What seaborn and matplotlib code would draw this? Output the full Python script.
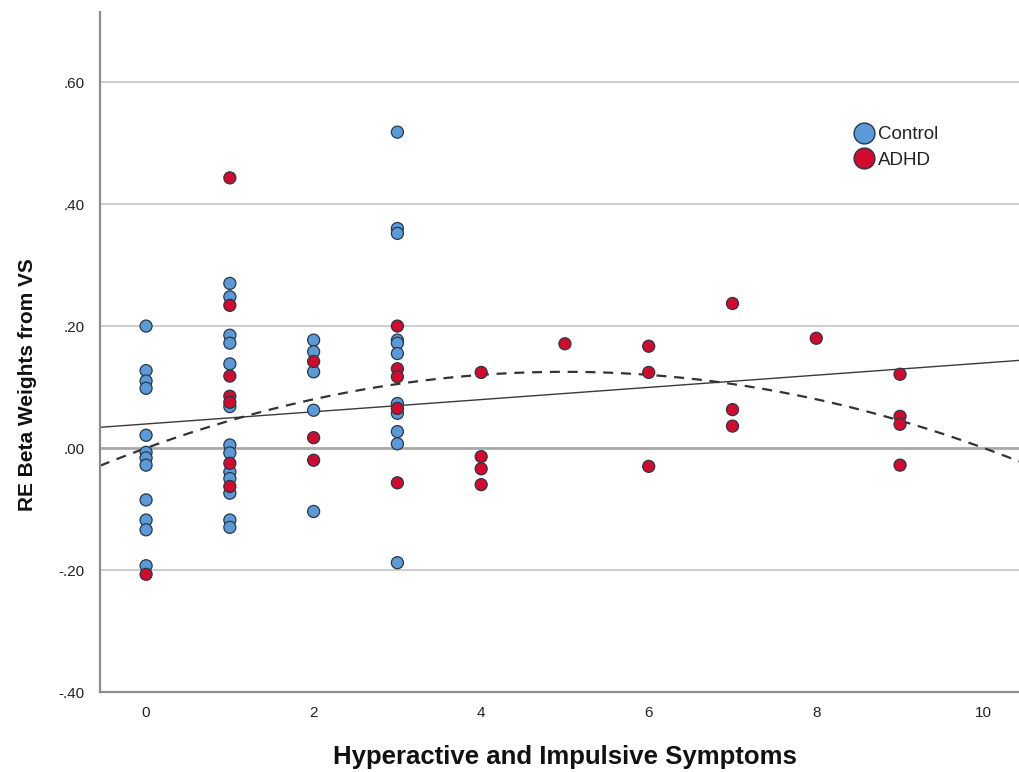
import numpy as np
import pandas as pd
import matplotlib
matplotlib.use("Agg")
import matplotlib.pyplot as plt
import seaborn as sns
from matplotlib.lines import Line2D

# ---------------- data ----------------
groups = ["Control", "ADHD"]

control_x = [0]*12 + [1]*13 + [2]*5 + [3]*11
control_y = [0.200, 0.127, 0.110, 0.098, 0.021, -0.007, -0.016, -0.028, -0.085, -0.118, -0.134, -0.193,
             0.270, 0.248, 0.185, 0.172, 0.138, 0.068, 0.005, -0.008, -0.039, -0.050, -0.074, -0.118, -0.130,
             0.177, 0.158, 0.125, 0.062, -0.104,
             0.518, 0.360, 0.352, 0.177, 0.172, 0.155, 0.073, 0.057, 0.027, 0.007, -0.188]

adhd_x = [0] + [1]*7 + [2]*3 + [3]*5 + [4]*4 + [5] + [6]*3 + [7]*3 + [8] + [9]*4
adhd_y = [-0.207,
          0.443, 0.234, 0.118, 0.085, 0.075, -0.025, -0.063,
          0.142, 0.017, -0.020,
          0.200, 0.130, 0.117, 0.065, -0.057,
          0.124, -0.014, -0.034, -0.060,
          0.171,
          0.167, 0.124, -0.030,
          0.237, 0.063, 0.036,
          0.180,
          0.121, 0.052, 0.039, -0.028]

# fit lines (polynomial coefficients, highest power first)
linear_fit_coef = [0.010, 0.0395]
quadratic_fit_coef = [-0.005, 0.050, 0.0]

y_ticks = [-0.40, -0.20, 0.00, 0.20, 0.40, 0.60]
y_tick_labels = ["-.40", "-.20", ".00", ".20", ".40", ".60"]
x_ticks = [0, 2, 4, 6, 8, 10]

x_label = "Hyperactive and Impulsive Symptoms"
y_label = "RE Beta Weights from VS"

palette = {"Control": "#5b9ad8", "ADHD": "#d20a2e"}

# ---------------- build frame ----------------
df = pd.concat([
    pd.DataFrame({"x": control_x, "y": control_y, "group": "Control"}),
    pd.DataFrame({"x": adhd_x, "y": adhd_y, "group": "ADHD"}),
], ignore_index=True)

sns.set_theme(style="white")
plt.rcParams["font.family"] = ["Liberation Sans", "DejaVu Sans"]

fig = plt.figure(figsize=(10.19, 7.72), dpi=100)
ax = fig.add_axes([100/1019, 1 - 692/772, 919/1019, (692-12)/772])

xlim = (-0.55, 10.42)
ylim = (-0.40, 0.715)

# grid lines
for t in y_ticks:
    if abs(t) < 1e-9:
        continue
    ax.axhline(t, color="#c9c9c9", lw=1.3, zorder=0)
ax.axhline(0.0, color="#a9a9a9", lw=2.0, zorder=0.5)

# fit lines
xs = np.linspace(xlim[0], xlim[1], 300)
ax.plot(xs, np.polyval(linear_fit_coef, xs), color="#3a3a3a", lw=1.0, zorder=1)
ax.plot(xs, np.polyval(quadratic_fit_coef, xs), color="#333333", lw=1.6,
        ls=(0, (4.5, 3.5)), zorder=1)

sns.scatterplot(data=df, x="x", y="y", hue="group", hue_order=groups, palette=palette,
                s=75, edgecolor="#283848", linewidth=0.9, legend=False, ax=ax, zorder=3)

ax.set_xlim(*xlim)
ax.set_ylim(*ylim)
ax.set_xticks(x_ticks)
ax.set_xticklabels([str(v) for v in x_ticks])
ax.set_yticks(y_ticks)
ax.set_yticklabels(y_tick_labels)
ax.tick_params(axis="both", length=0, labelsize=11, labelcolor="#222222")
ax.tick_params(axis="x", pad=10)
ax.tick_params(axis="y", pad=11)

for side in ["top", "right"]:
    ax.spines[side].set_visible(False)
for side in ["left", "bottom"]:
    ax.spines[side].set_color("#8c8c8c")
    ax.spines[side].set_linewidth(1.6)

ax.set_xlabel(x_label, fontsize=18.5, fontweight="bold", color="#111111")
ax.set_ylabel(y_label, fontsize=15, fontweight="bold", color="#111111")
ax.xaxis.set_label_coords((565-100)/919, -(757-692)/680)
ax.yaxis.set_label_coords(-(100-28)/919, (692-385)/680)
ax.xaxis.label.set_va("center")
ax.yaxis.label.set_va("center")

handles = [Line2D([0], [0], marker="o", ls="none", markersize=15,
                  markerfacecolor=palette[g], markeredgecolor="#283848", markeredgewidth=1.0)
           for g in groups]
leg = ax.legend(handles, groups, loc="upper left", bbox_to_anchor=((838-100)/919, (692-113)/680),
                frameon=False, fontsize=13.5, handletextpad=0.05, labelspacing=0.45,
                borderpad=0.2, handlelength=1.4)
for txt in leg.get_texts():
    txt.set_color("#222222")

fig.savefig("out.png", dpi=100, facecolor="white")
